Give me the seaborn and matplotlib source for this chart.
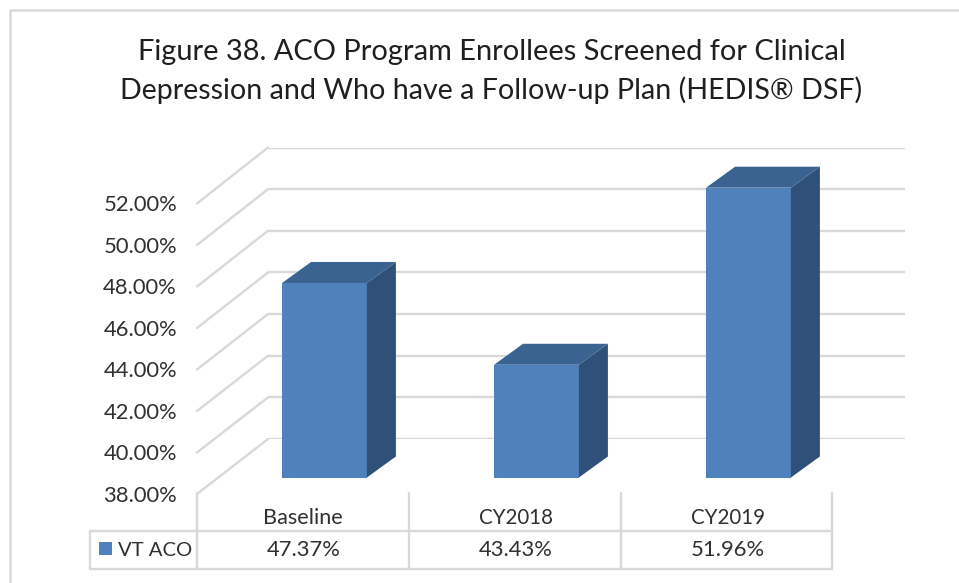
import matplotlib
matplotlib.use("Agg")
import matplotlib.pyplot as plt
import seaborn as sns
from matplotlib.patches import Polygon, Rectangle

categories = ["Baseline", "CY2018", "CY2019"]
category_sizes = [15.6, 14.8, 14.8]
series_name = "VT ACO"
values = [47.37, 43.43, 51.96]
value_labels = ["47.37%", "43.43%", "51.96%"]
y_ticks = [38, 40, 42, 44, 46, 48, 50, 52]
title_lines = ["Figure 38. ACO Program Enrollees Screened for Clinical",
               "Depression and Who have a Follow-up Plan (HEDIS® DSF)"]
title_sizes = [20.9, 20.6]

W, H = 959, 583
FRONT = "#4F81BD"; TOP = "#3A6391"; SIDE = "#2F5179"; GRID = "#D9D9D9"; TXT = "#303030"

sns.set_theme(style="white")
plt.rcParams["font.family"] = ["Lato", "DejaVu Sans"]
fig = plt.figure(figsize=(W / 100, H / 100), dpi=100, facecolor="white")

def px_axes(l, t, r, b, **kw):
    return fig.add_axes([l / W, 1 - b / H, (r - l) / W, (b - t) / H], **kw)

# pixel-space layer for frame, depth lines, table and title
bg = px_axes(0, 0, W, H)
bg.set_xlim(0, W); bg.set_ylim(H, 0); bg.axis("off")
bg.plot([10, 10, W], [H, 10, 10], color=GRID, lw=1.8)
for i, line in enumerate(title_lines):
    bg.text(491.5, 52 + 38 * i, line, ha="center", va="center", fontsize=title_sizes[i], color="#1f1f1f")

# back wall gridlines
back = px_axes(268, 147.5, 905, 439)
back.set_xlim(0, 1); back.set_ylim(38, 52)
back.patch.set_alpha(0)
sns.despine(ax=back, left=True, bottom=True)
back.set_xticks([]); back.set_yticks(y_ticks); back.set_yticklabels([])
back.tick_params(length=0)
back.grid(axis="y", color=GRID, lw=1.7)
back.set_axisbelow(True)

# front axis carrying the tick labels
front = px_axes(197, 203.5, 832, 494)
front.set_xlim(0, 1); front.set_ylim(38, 52)
front.patch.set_alpha(0)
sns.despine(ax=front, left=True, bottom=True)
front.set_xticks([]); front.set_yticks(y_ticks)
front.set_yticklabels([f"{v:.2f}%" for v in y_ticks], fontsize=15.8, color=TXT)
front.tick_params(axis="y", length=0, pad=14.4)

# depth lines joining the axis ticks to the back wall
for v in y_ticks:
    y0 = front.transData.transform((0, v))[1]
    y1 = back.transData.transform((0, v))[1]
    bg.plot([197, 268], [H - y0, H - y1], color=GRID, lw=1.7)

# table
for x in [197, 409, 621, 832]:
    bg.plot([x, x], [493, 569], color=GRID, lw=1.7)
bg.plot([90, 90], [531, 569], color=GRID, lw=1.7)
bg.plot([90, 832], [531, 531], color=GRID, lw=1.7)
bg.plot([90, 832], [569, 569], color=GRID, lw=1.7)
bg.add_patch(Rectangle((98.5, 542), 13, 13, color=FRONT, lw=0))
bg.text(118, 550, series_name, ha="left", va="center", fontsize=14.6, color=TXT)
for i, (c, s) in enumerate(zip(categories, value_labels)):
    x = 303 + 212 * i
    bg.text(x + (i > 0), 518, c, ha="center", va="center", fontsize=category_sizes[i], color=TXT)
    bg.text(x + 1, 550, s, ha="center", va="center", fontsize=15.8, color=TXT)

# bars
ax = px_axes(218.5, 148, 854.5, 477.5)
ax.patch.set_alpha(0)
sns.barplot(x=categories, y=values, color=FRONT, saturation=1, width=0.4, ax=ax, zorder=3,
            linewidth=0)
ax.set_xlim(-0.5, 2.5)
ax.set_ylim(38, 38 + (477.5 - 148) / 20.76)
ax.axis("off")
dx = 29 / 212
dy = 21 / 20.76
for bar in list(ax.patches):
    x0 = bar.get_x(); x1 = x0 + bar.get_width(); top = bar.get_height()
    ax.add_patch(Polygon([(x1, 38), (x1 + dx, 38 + dy), (x1 + dx, top + dy), (x1, top)],
                         color=SIDE, lw=0, zorder=3, clip_on=False))
    ax.add_patch(Polygon([(x0, top), (x0 + dx, top + dy), (x1 + dx, top + dy), (x1, top)],
                         color=TOP, lw=0, zorder=3, clip_on=False))

fig.savefig("out.png", dpi=100)
